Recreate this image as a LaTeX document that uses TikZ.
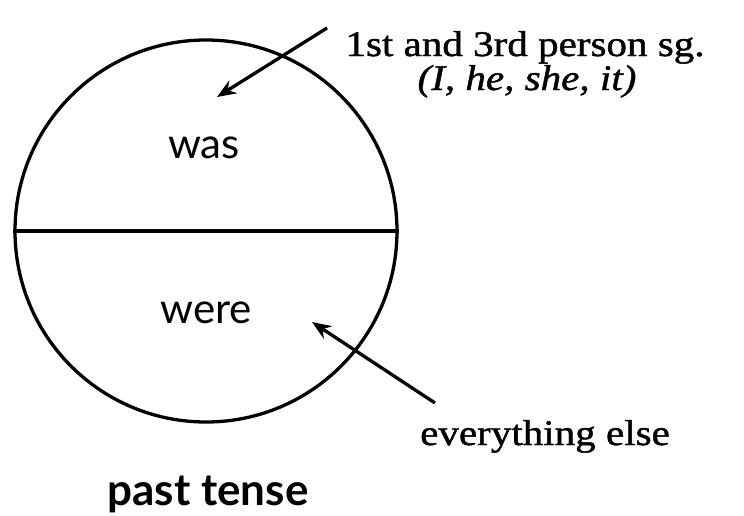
\documentclass[tikz,border=0pt]{standalone}
\usepackage{fontspec}
\setmainfont{Liberation Serif}
\newfontfamily\serwide[FakeStretch=1.14,FakeBold=1.2]{Liberation Serif}
\newfontfamily\labelsans{Lato}
\usetikzlibrary{arrows.meta}
\tikzset{
  ln/.style={line width=3.3pt, black},
  arr/.style={line width=3.3pt, -{Stealth[length=19pt,width=15pt]}},
  serlabel/.style={font=\serwide\fontsize{36}{40}\selectfont, inner sep=0pt, anchor=base},
  sanslabel/.style={font=\labelsans\fontsize{42}{45}\selectfont, inner sep=0pt, anchor=base},
}
\begin{document}
\begin{tikzpicture}[x=1pt,y=-1pt]
\useasboundingbox[fill=white] (0,0) rectangle (744,515);
\node[ln, draw, circle, minimum size=382pt, inner sep=0pt] (c) at (206,231) {};
\draw[ln] (c.west) -- (c.east);
\node[sanslabel] (was) at (204,158) {was};
\node[sanslabel] (were) at (206,323) {were};
\node[sanslabel, font=\labelsans\bfseries\fontsize{44}{47}\selectfont] (pt) at (208,505) {past tense};
\node[serlabel] (sg) at (525,56) {1st and 3rd person sg.};
\node[serlabel] (ex) at (527,90) {\itshape (I, he, she, it)};
\node[serlabel] (else) at (545,445) {everything else};
\coordinate (t1) at (327,28);
\coordinate (h1) at (217,97);
\coordinate (t2) at (435,403);
\coordinate (h2) at (312,322);
\draw[arr] (t1) -- (h1);
\draw[arr] (t2) -- (h2);
\end{tikzpicture}
\end{document}
